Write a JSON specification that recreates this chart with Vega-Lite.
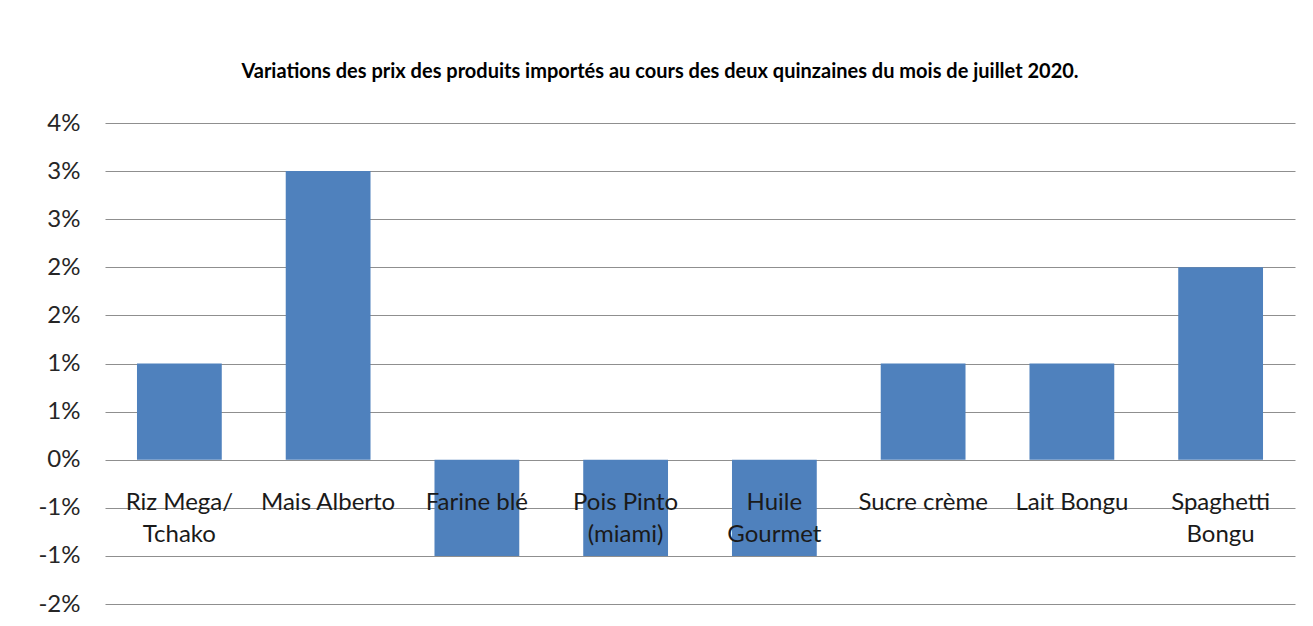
{
  "$schema": "https://vega.github.io/schema/vega-lite/v6.json",
  "width": 1190,
  "height": 481,
  "autosize": "none",
  "padding": {"left": 105, "top": 123, "right": 18, "bottom": 22},
  "background": "white",
  "title": {
    "text": "Variations des prix des produits importés au cours  des deux quinzaines du mois de juillet 2020.",
    "font": "Lato",
    "fontSize": 20,
    "fontWeight": "bold",
    "color": "#000000",
    "anchor": "middle",
    "frame": "group",
    "dx": -40,
    "offset": 29
  },
  "data": {
    "values": [
      {"produit": "Riz Mega/\nTchako", "variation": 0.01},
      {"produit": "Mais Alberto", "variation": 0.03},
      {"produit": "Farine blé", "variation": -0.01},
      {"produit": "Pois Pinto\n(miami)", "variation": -0.01},
      {"produit": "Huile\nGourmet", "variation": -0.01},
      {"produit": "Sucre crème", "variation": 0.01},
      {"produit": "Lait Bongu", "variation": 0.01},
      {"produit": "Spaghetti\nBongu", "variation": 0.02}
    ]
  },
  "encoding": {
    "x": {
      "field": "produit",
      "type": "nominal",
      "sort": null,
      "axis": null,
      "scale": {"paddingInner": 0.43, "paddingOuter": 0.215}
    }
  },
  "layer": [
    {
      "mark": {"type": "bar", "color": "#4F81BD"},
      "encoding": {
        "y": {
          "field": "variation",
          "type": "quantitative",
          "scale": {"domain": [-0.015, 0.035], "nice": false, "zero": false},
          "axis": {
            "title": null,
            "values": [-0.015, -0.01, -0.005, 0, 0.005, 0.01, 0.015, 0.02, 0.025, 0.03, 0.035],
            "labelExpr": "(datum.value < 0 ? '-' : '') + format(abs(datum.value), '.0%')",
            "domain": false,
            "ticks": false,
            "grid": true,
            "gridColor": "#8f8f8f",
            "gridWidth": 1,
            "labelFont": "Lato",
            "labelFontSize": 24,
            "labelColor": "#262626",
            "labelPadding": 25,
            "labelBaseline": "middle"
          }
        },
        "y2": {"datum": 0}
      }
    },
    {
      "mark": {
        "type": "text",
        "font": "Lato",
        "fontSize": 24,
        "color": "#1a1a1a",
        "baseline": "alphabetic",
        "align": "center",
        "dy": 50,
        "lineBreak": "\n",
        "lineHeight": 32
      },
      "encoding": {
        "y": {"datum": 0, "type": "quantitative"},
        "text": {"field": "produit"}
      }
    }
  ],
  "config": {"view": {"stroke": null}}
}
